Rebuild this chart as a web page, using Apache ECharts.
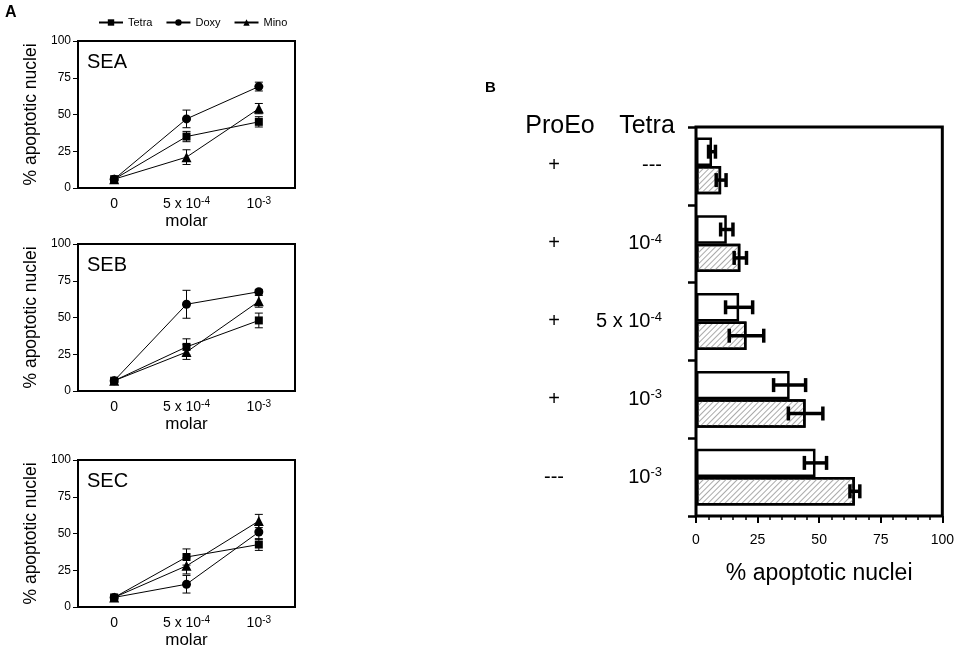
<!DOCTYPE html>
<html lang="en">
  <head>
    <meta charset="UTF-8" />
    <title>% apoptotic nuclei</title>
    <script src="https://cdn.jsdelivr.net/npm/echarts@6/dist/echarts.min.js"></script>
    <style>
      * {
        margin: 0;
        padding: 0;
      }
    </style>
  </head>
  <body>
    <div id="charts" style="width: 957px; height: 658px"></div>
    <script>
      // panel A: three stimuli, three drugs, three doses
      var doses = ["0", "5 x 10^-4", "10^-3"];
      var drugs = ["Tetra", "Doxy", "Mino"];
      var panels = ["SEA", "SEB", "SEC"];

      var tetraSEA = [6, 35, 45];
      var tetraSEAErr = [1, 3.5, 3.5];
      var doxySEA = [6, 47, 69];
      var doxySEAErr = [1, 6, 3];
      var minoSEA = [6, 21, 54];
      var minoSEAErr = [1, 5, 3.5];

      var tetraSEB = [7, 30, 48];
      var tetraSEBErr = [1, 5.5, 5];
      var doxySEB = [7, 59, 67.5];
      var doxySEBErr = [1, 9.5, 1.5];
      var minoSEB = [7, 26.5, 61];
      var minoSEBErr = [1, 5, 4];

      var tetraSEC = [6.5, 34, 42.5];
      var tetraSECErr = [1, 5.5, 4];
      var doxySEC = [6.5, 15.5, 51];
      var doxySECErr = [1, 6, 5];
      var minoSEC = [6.5, 28, 58.5];
      var minoSECErr = [1, 5.5, 4.5];

      // panel B
      var proEoRows = ["+", "+", "+", "+", "---"];
      var tetraRows = ["---", "10^-4", "5 x 10^-4", "10^-3", "10^-3"];
      var openBars = [6.5, 12.5, 17.5, 38, 48.5];
      var openErr = [1.4, 2.5, 5.5, 6.5, 4.5];
      var hatchBars = [10.2, 18, 20.5, 44.5, 64.5];
      var hatchErr = [2, 2.5, 7, 7, 2];

      var panelData = [
        [[tetraSEA, tetraSEAErr], [doxySEA, doxySEAErr], [minoSEA, minoSEAErr]],
        [[tetraSEB, tetraSEBErr], [doxySEB, doxySEBErr], [minoSEB, minoSEBErr]],
        [[tetraSEC, tetraSECErr], [doxySEC, doxySECErr], [minoSEC, minoSECErr]],
      ];
      var symbols = ["rect", "circle", "triangle"];
      var symbolSizes = [8, 9, 10];

      var font = "Liberation Sans, Arial, sans-serif";
      function supText(s) {
        return s.replace(/\^(\S+)/, "{s|$1}");
      }

      function vErr(params, api) {
        var c = api.value(0);
        var lo = api.coord([c, api.value(1)]);
        var hi = api.coord([c, api.value(2)]);
        var w = 4;
        var st = { stroke: "#000", lineWidth: 1 };
        return {
          type: "group",
          children: [
            { type: "line", shape: { x1: lo[0], y1: lo[1], x2: hi[0], y2: hi[1] }, style: st },
            { type: "line", shape: { x1: lo[0] - w, y1: lo[1], x2: lo[0] + w, y2: lo[1] }, style: st },
            { type: "line", shape: { x1: hi[0] - w, y1: hi[1], x2: hi[0] + w, y2: hi[1] }, style: st },
          ],
        };
      }

      function hErr(off) {
        return function (params, api) {
          var c = api.value(0);
          var lo = api.coord([api.value(1), c]);
          var hi = api.coord([api.value(2), c]);
          var band = api.size([0, 1])[1];
          var y = lo[1] + band * off;
          var h = 7;
          var st = { stroke: "#000", lineWidth: 3.5 };
          return {
            type: "group",
            children: [
              { type: "line", shape: { x1: lo[0], y1: y, x2: hi[0], y2: y }, style: st },
              { type: "line", shape: { x1: lo[0], y1: y - h, x2: lo[0], y2: y + h }, style: st },
              { type: "line", shape: { x1: hi[0], y1: y - h, x2: hi[0], y2: y + h }, style: st },
            ],
          };
        };
      }

      var gridTops = [41, 244, 460];
      var grids = [];
      var xAxes = [];
      var yAxes = [];
      var series = [];
      var graphics = [
        { type: "text", x: 5, y: 5, style: { text: "A", font: "bold 16px " + font, fill: "#000" } },
        { type: "text", x: 485, y: 80, style: { text: "B", font: "bold 15px " + font, fill: "#000" } },
      ];

      gridTops.forEach(function (top, i) {
        grids.push({
          left: 78,
          top: top,
          width: 217,
          height: 147,
          show: true,
          borderColor: "#000",
          borderWidth: 2,
          backgroundColor: "transparent",
        });
        xAxes.push({
          gridIndex: i,
          type: "category",
          data: doses,
          boundaryGap: true,
          axisLine: { show: false },
          axisTick: { show: false },
          axisLabel: {
            interval: 0,
            hideOverlap: false,
            color: "#000",
            fontFamily: font,
            fontSize: 14,
            lineHeight: 16,
            margin: 8,
            formatter: supText,
            rich: { s: { fontSize: 10, lineHeight: 10, verticalAlign: "top", fontFamily: font, color: "#000" } },
          },
          name: "molar",
          nameLocation: "middle",
          nameGap: 25,
          nameTextStyle: { color: "#000", fontFamily: font, fontSize: 17 },
        });
        yAxes.push({
          gridIndex: i,
          type: "value",
          min: 0,
          max: 100,
          interval: 25,
          axisLine: { show: false },
          axisTick: { show: true, length: 5, lineStyle: { color: "#000", width: 1 } },
          splitLine: { show: false },
          axisLabel: { color: "#000", fontFamily: font, fontSize: 12, margin: 7 },
          name: "% apoptotic nuclei",
          nameLocation: "middle",
          nameGap: 38,
          nameTextStyle: { color: "#000", fontFamily: font, fontSize: 17.5 },
        });
        graphics.push({
          type: "text",
          x: 87,
          y: top + 11,
          style: { text: panels[i], font: "20px " + font, fill: "#000" },
        });
        panelData[i].forEach(function (pair, d) {
          series.push({
            name: drugs[d],
            type: "line",
            xAxisIndex: i,
            yAxisIndex: i,
            data: pair[0],
            symbol: symbols[d],
            symbolSize: symbolSizes[d],
            lineStyle: { color: "#000", width: 1 },
            itemStyle: { color: "#000" },
            z: 3,
          });
          series.push({
            type: "custom",
            xAxisIndex: i,
            yAxisIndex: i,
            renderItem: vErr,
            encode: { x: 0, y: [1, 2] },
            data: pair[0].map(function (v, k) {
              return [k, v - pair[1][k], v + pair[1][k]];
            }),
            silent: true,
            z: 2,
          });
        });
      });

      // panel B grid
      grids.push({
        left: 696,
        top: 127,
        width: 247,
        height: 389,
        show: true,
        borderColor: "#000",
        borderWidth: 3,
        backgroundColor: "transparent",
      });
      xAxes.push({
        gridIndex: 3,
        type: "value",
        min: 0,
        max: 100,
        interval: 25,
        axisLine: { show: false },
        splitLine: { show: false },
        axisTick: { show: true, length: 7, lineStyle: { color: "#000", width: 2 } },
        minorTick: { show: true, splitNumber: 5, length: 4, lineStyle: { color: "#000", width: 1.5 } },
        axisLabel: { color: "#000", fontFamily: font, fontSize: 14, margin: 17 },
        name: "% apoptotic nuclei",
        nameLocation: "middle",
        nameGap: 46,
        nameTextStyle: { color: "#000", fontFamily: font, fontSize: 23 },
      });
      yAxes.push({
        gridIndex: 3,
        type: "category",
        position: "left",
        inverse: true,
        data: proEoRows,
        axisLine: { show: false },
        axisTick: { show: true, length: 8, lineStyle: { color: "#000", width: 2.5 } },
        axisLabel: { interval: 0, color: "#000", fontFamily: font, fontSize: 20, align: "center", margin: 142 },
      });
      yAxes.push({
        gridIndex: 3,
        type: "category",
        position: "left",
        inverse: true,
        data: tetraRows,
        axisLine: { show: false },
        axisTick: { show: false },
        axisLabel: {
          interval: 0,
          color: "#000",
          fontFamily: font,
          fontSize: 20,
          lineHeight: 22,
          align: "right",
          margin: 34,
          formatter: supText,
          rich: { s: { fontSize: 13, lineHeight: 13, verticalAlign: "top", fontFamily: font, color: "#000" } },
        },
      });
      graphics.push(
        {
          type: "text",
          x: 560,
          y: 126,
          style: { text: "ProEo", font: "25px " + font, fill: "#000", align: "center", verticalAlign: "middle", textAlign: "center", textVerticalAlign: "middle" },
        },
        {
          type: "text",
          x: 647,
          y: 126,
          style: { text: "Tetra", font: "25px " + font, fill: "#000", align: "center", verticalAlign: "middle", textAlign: "center", textVerticalAlign: "middle" },
        }
      );

      series.push(
        {
          type: "bar",
          xAxisIndex: 3,
          yAxisIndex: 3,
          data: openBars,
          barGap: "0%",
          barCategoryGap: "27%",
          itemStyle: { color: "#fff", borderColor: "#000", borderWidth: 2.5 },
          z: 2,
        },
        {
          type: "bar",
          xAxisIndex: 3,
          yAxisIndex: 3,
          data: hatchBars,
          barGap: "0%",
          barCategoryGap: "27%",
          itemStyle: {
            color: "#fff",
            borderColor: "#000",
            borderWidth: 2.5,
            decal: {
              symbol: "rect",
              symbolSize: 1,
              dashArrayX: [1, 0],
              dashArrayY: [1, 3],
              rotation: -Math.PI / 4,
              color: "#aaa",
            },
          },
          z: 2,
        },
        {
          type: "custom",
          xAxisIndex: 3,
          yAxisIndex: 3,
          renderItem: hErr(-0.1825),
          encode: { x: [1, 2], y: 0 },
          data: openBars.map(function (v, k) {
            return [k, v - openErr[k], v + openErr[k]];
          }),
          silent: true,
          z: 4,
        },
        {
          type: "custom",
          xAxisIndex: 3,
          yAxisIndex: 3,
          renderItem: hErr(0.1825),
          encode: { x: [1, 2], y: 0 },
          data: hatchBars.map(function (v, k) {
            return [k, v - hatchErr[k], v + hatchErr[k]];
          }),
          silent: true,
          z: 4,
        }
      );

      var myEcharts = echarts.init(document.getElementById("charts"));
      var options = {
        animation: false,
        textStyle: { fontFamily: font, color: "#000" },
        legend: {
          data: drugs,
          left: 93,
          top: 12,
          itemWidth: 24,
          itemHeight: 8,
          itemGap: 13,
          textStyle: { color: "#000", fontFamily: font, fontSize: 11 },
        },
        grid: grids,
        xAxis: xAxes,
        yAxis: yAxes,
        series: series,
        graphic: graphics,
      };
      myEcharts.setOption(options);
    </script>
  </body>
</html>
